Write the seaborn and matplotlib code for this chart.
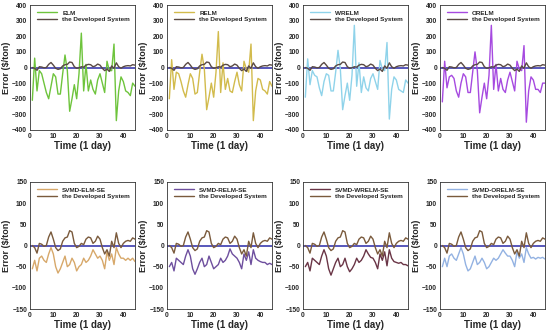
import numpy as np
import pandas as pd
import matplotlib
matplotlib.use("Agg")
import matplotlib.pyplot as plt
import seaborn as sns

days = list(range(1, 46))

# error of the proposed model (same in every panel)
developed = [0, -5, -18, 5, 3, -2, 0, 20, 32, 15, -5, -12, -8, 10, 18, 20, 35, 32, 5, -5,
             -2, 5, 2, 15, 20, 18, 5, 10, 22, 15, -5, -20, -10, -25, 10, -5, 30, 5, -5, 5,
             10, 12, 10, 18, 15]

# top row: single models
elm = [-210, 60, -150, -20, -40, -100, -160, -200, -120, -40, -60, -170, -170, -40, 80,
       -20, -280, -200, -110, -200, -40, 220, -150, 20, -150, -80, -140, -170, -80, -40,
       -100, -160, 40, -20, -20, 150, -340, -150, -60, -90, -150, -160, -180, -100, -120]
relm = [-200, 50, -140, -30, -40, -90, -150, -190, -110, -40, -70, -170, -160, -30, 85,
        -10, -270, -190, -100, -190, -30, 230, -160, 30, -140, -70, -150, -160, -90, -30,
        -110, -150, 40, -10, -30, 150, -340, -150, -70, -80, -140, -150, -170, -90, -120]
wrelm = [-190, 55, -110, -20, -50, -60, -130, -180, -90, -40, -50, -150, -150, -30, 110,
         -10, -270, -180, -100, -210, -50, 270, -120, 30, -160, -60, -130, -150, -70, -40,
         -90, -140, 45, -10, -20, 160, -330, -140, -60, -80, -140, -150, -160, -80, -100]
orelm = [-220, 40, -130, -60, -50, -70, -150, -190, -100, -40, -60, -160, -160, -30, 100,
         -20, -290, -190, -100, -200, -50, 270, -140, 20, -150, -70, -140, -160, -80, -30,
         -90, -150, 40, -10, -20, 140, -350, -150, -60, -80, -140, -140, -160, -100, -100]

# bottom row: SVMD hybrid models
svmd_elm = [-55, -35, -60, -30, -25, -35, -40, -20, -5, -20, -50, -65, -55, -40, -25,
            -50, -45, -30, -40, -60, -50, -45, -30, -40, -35, -25, -10, -20, -30, -25,
            -35, -55, -15, -35, -20, -45, -5, -20, -30, -30, -35, -30, -35, -30, -38]
svmd_relm = [-50, -40, -60, -30, -35, -40, -45, -25, -10, -25, -55, -68, -55, -40, -30,
             -50, -45, -25, -40, -55, -50, -45, -30, -40, -35, -25, -8, -20, -25, -30,
             -40, -55, -20, -35, -15, -45, -10, -30, -35, -38, -40, -40, -45, -42, -45]
svmd_wrelm = [-50, -40, -60, -30, -35, -40, -45, -25, -10, -25, -55, -70, -55, -40, -30,
              -50, -45, -30, -50, -62, -55, -45, -30, -40, -35, -25, -10, -20, -28, -30,
              -40, -55, -20, -35, -15, -48, -10, -30, -38, -40, -42, -40, -45, -45, -48]
svmd_orelm = [-50, -30, -50, -25, -20, -30, -35, -20, -5, -20, -45, -60, -55, -40, -25,
              -45, -40, -30, -40, -55, -50, -40, -30, -35, -30, -20, -10, -18, -25, -25,
              -35, -50, -15, -30, -20, -40, -5, -20, -30, -28, -32, -28, -30, -28, -32]

top_names = ["ELM", "RELM", "WRELM", "ORELM"]
top_series = [elm, relm, wrelm, orelm]
top_colors = ["#6ec43c", "#d2bb4c", "#8fd3ea", "#a64ae0"]
bot_names = ["SVMD-ELM-SE", "SVMD-RELM-SE", "SVMD-WRELM-SE", "SVMD-ORELM-SE"]
bot_series = [svmd_elm, svmd_relm, svmd_wrelm, svmd_orelm]
bot_colors = ["#d7a86a", "#6e4f9e", "#6a3546", "#93b2e2"]
dev_color_top = "#5a4a44"
dev_color_bot = "#7a5a3c"

sns.set_style("white")
plt.rcParams["font.family"] = ["Liberation Sans", "DejaVu Sans"]

fig = plt.figure(figsize=(5.5, 3.31), dpi=100)
lefts = [30, 167, 303, 440]
W, H = 550, 331


def draw(ax, name, vals, color, dev_color, ylim, yticks):
    df = pd.DataFrame({"day": days, "model": vals, "dev": developed})
    ax.axhline(0, color="#2a2aa8", lw=1.1, zorder=1)
    sns.lineplot(data=df, x="day", y="model", ax=ax, color=color, lw=1.0, label=name)
    sns.lineplot(data=df, x="day", y="dev", ax=ax, color=dev_color, lw=1.0,
                 label="the Developed System")
    ax.set_xlim(0, 45)
    ax.set_ylim(*ylim)
    ax.set_xticks([0, 10, 20, 30, 40])
    ax.set_yticks(yticks)
    ax.tick_params(direction="in", length=2, labelsize=4.8, pad=2, width=0.5)
    for lab in ax.get_xticklabels() + ax.get_yticklabels():
        lab.set_fontweight("bold")
    ax.set_xlabel("Time (1 day)", fontsize=7, fontweight="bold", labelpad=1)
    ax.set_ylabel("Error (\\$/ton)", fontsize=6.5, fontweight="bold", labelpad=1)
    for s in ax.spines.values():
        s.set_linewidth(0.6)
        s.set_color("#333333")
    leg = ax.legend(loc="upper right", frameon=False, fontsize=4.6, handlelength=3.2,
                    borderaxespad=0.4, labelspacing=0.2, handletextpad=0.8)
    for t in leg.get_texts():
        t.set_fontweight("bold")


for i in range(4):
    ax = fig.add_axes([lefts[i] / W, 1 - 130 / H, 105 / W, 125 / H])
    draw(ax, top_names[i], top_series[i], top_colors[i], dev_color_top,
         (-400, 400), range(-400, 401, 100))
    ax = fig.add_axes([lefts[i] / W, 1 - 309 / H, 105 / W, 127 / H])
    draw(ax, bot_names[i], bot_series[i], bot_colors[i], dev_color_bot,
         (-150, 150), range(-150, 151, 50))

fig.savefig("out.png", dpi=100)
